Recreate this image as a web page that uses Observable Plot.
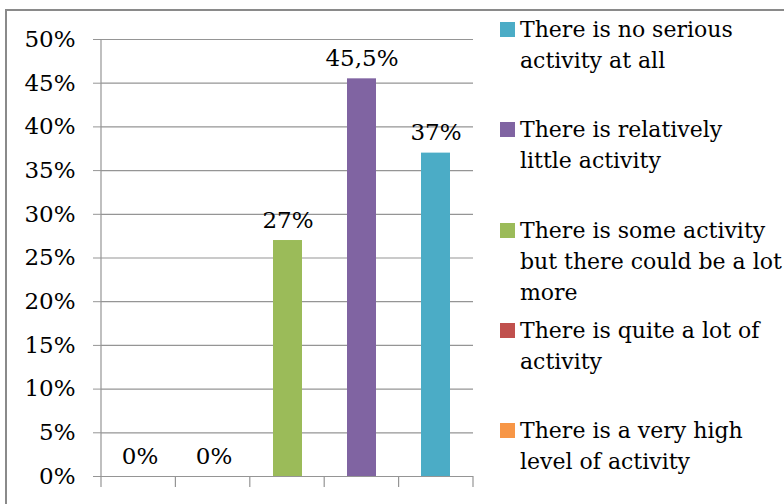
<!DOCTYPE html>
<html><head><meta charset="utf-8">
<script src="https://cdn.jsdelivr.net/npm/d3@7"></script>
<script src="https://cdn.jsdelivr.net/npm/@observablehq/plot@0.6"></script>
<style>
html,body{margin:0;padding:0;background:#fff;overflow:hidden;}
#wrap{position:relative;width:784px;height:504px;overflow:hidden;font-family:"DejaVu Serif",serif;background:#fff;}
#border{position:absolute;left:5px;top:9px;width:900px;height:700px;border:2px solid #8a8a8a;box-sizing:border-box;}
#chart{position:absolute;left:0;top:0;}
.item{position:absolute;left:500px;}
.sw{position:absolute;left:0;top:8px;width:15px;height:15px;}
.lbl{position:absolute;left:20px;top:0;white-space:pre;font-size:22px;line-height:31px;color:#000;}
</style></head>
<body><div id="wrap"><div id="border"></div><div id="chart"></div><div id="legend"></div></div>
<script>
// ---- data ----
const categories = [
  "There is a very high level of activity",
  "There is quite a lot of activity",
  "There is some activity but there could be a lot more",
  "There is relatively little activity",
  "There is no serious activity at all"
];
const values = [0, 0, 27, 45.5, 37];
const valueLabels = ["0%", "0%", "27%", "45,5%", "37%"];
const yTicks = [0, 5, 10, 15, 20, 25, 30, 35, 40, 45, 50];
const legendOrder = [4, 3, 2, 1, 0];
const legendLines = [
  "There is a very high\nlevel of activity",
  "There is quite a lot of\nactivity",
  "There is some activity\nbut there could be a lot\nmore",
  "There is relatively\nlittle activity",
  "There is no serious\nactivity at all"
];
// ---- styles ----
const colors = ["#F79646", "#C0504D", "#9BBB59", "#8064A2", "#4BACC6"];
const gridColor = "#959595";

const data = categories.map((c, i) => ({cat: c, value: values[i], label: valueLabels[i]}));

const chart = Plot.plot({
  width: 784, height: 504,
  marginLeft: 101, marginRight: 311, marginTop: 39, marginBottom: 28,
  style: {fontFamily: "DejaVu Serif", fontSize: "23px", color: "#000", background: "transparent"},
  x: {domain: categories, paddingInner: 0.61, paddingOuter: 0.305, axis: null},
  y: {domain: [0, 50], label: null},
  color: {domain: categories, range: colors},
  marks: [
    Plot.ruleY(yTicks, {stroke: gridColor, strokeWidth: 1.2}),
    Plot.axisY(yTicks, {tickSize: 8, tickPadding: 18, stroke: gridColor, fill: "#000", fontSize: 23, tickFormat: d => d + "%", label: null}),
    Plot.barY(data, {x: "cat", y: "value", fill: "cat"}),
    Plot.text(data, {x: "cat", y: "value", text: "label", dy: -20, fontSize: 23, fill: "#000"})
  ]
});
document.getElementById("chart").appendChild(chart);

// axis line and category boundary ticks from the Plot scales
const xs = chart.scale("x"), ys = chart.scale("y");
const [r0, r1] = xs.range;
const y0 = ys.apply(0), yTop = ys.apply(50);
const svg = d3.select(chart);
svg.append("line").attr("x1", r0).attr("x2", r0).attr("y1", yTop).attr("y2", y0)
  .attr("stroke", gridColor).attr("stroke-width", 1.2);
const n = categories.length;
svg.selectAll("line.xt").data(d3.range(n + 1)).join("line").attr("class", "xt")
  .attr("x1", i => r0 + i * (r1 - r0) / n).attr("x2", i => r0 + i * (r1 - r0) / n)
  .attr("y1", y0).attr("y2", y0 + 11)
  .attr("stroke", gridColor).attr("stroke-width", 1.2);

// legend
const legend = d3.select("#legend");
legendOrder.forEach((ci, k) => {
  const it = legend.append("div").attr("class", "item").style("top", (14 + k * 100.25) + "px");
  it.append("div").attr("class", "sw").style("background", chart.scale("color").apply(categories[ci]));
  it.append("div").attr("class", "lbl").text(legendLines[ci]);
});
</script>
</body></html>
